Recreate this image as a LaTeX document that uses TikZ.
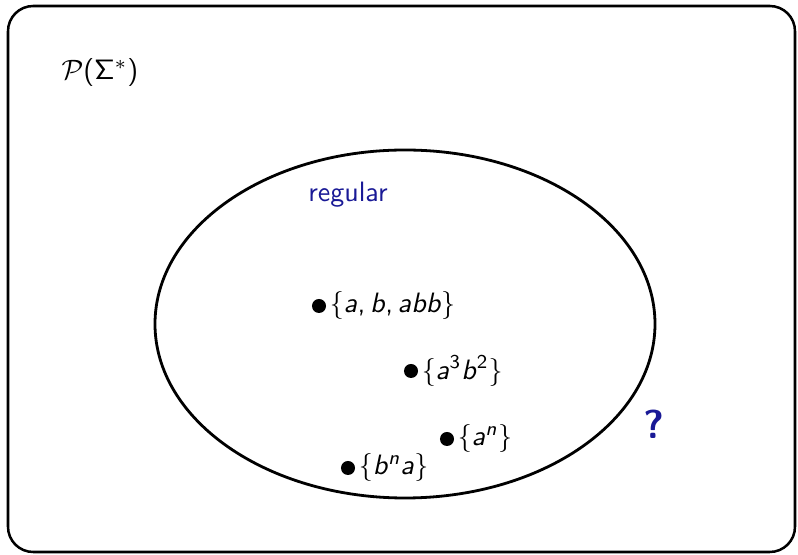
\documentclass[tikz,border=0pt]{standalone}
\usetikzlibrary{positioning}
\definecolor{structblue}{RGB}{25,25,150}
% sans serif letters in math
\DeclareSymbolFont{sfslant}{OT1}{cmss}{m}{sl}
\DeclareSymbolFont{sfup}{OT1}{cmss}{m}{n}
\DeclareMathSymbol{a}{\mathalpha}{sfslant}{`a}
\DeclareMathSymbol{b}{\mathalpha}{sfslant}{`b}
\DeclareMathSymbol{n}{\mathalpha}{sfslant}{`n}
\DeclareMathSymbol{2}{\mathalpha}{sfup}{`2}
\DeclareMathSymbol{3}{\mathalpha}{sfup}{`3}
\DeclareMathSymbol{(}{\mathopen}{sfup}{`(}
\DeclareMathSymbol{)}{\mathclose}{sfup}{`)}
\DeclareMathSymbol{,}{\mathpunct}{sfup}{`,}
\DeclareMathSymbol{\Sigma}{\mathalpha}{sfup}{6}

\begin{document}
\begin{tikzpicture}[
  x=0.357pt, y=-0.357pt,
  font=\sffamily,
  frame/.style={draw,line width=0.9pt,rounded corners=9pt},
  lang/.style={circle,fill,inner sep=0pt,minimum size=5pt,
               label={[inner sep=1pt]right:#1}},
  hint/.style={text=structblue},
]
  \useasboundingbox (0,0) rectangle (798,555);
  \draw[frame] (8,6) rectangle (795,552);
  \node (power) at (100,73) {$\mathcal{P}(\Sigma^*)$};

  % regular languages
  \draw[line width=1pt] (405,324) ellipse [x radius=250, y radius=174];
  \node[hint] (reg) at (348,195) {regular};

  \node[lang={$\{a,b,abb\}$}] (l1) at (319,306) {};
  \node[lang={$\{a^3b^2\}$}] (l2) at (411,371) {};
  \node[lang={$\{a^n\}$}] (l3) at (447,439) {};
  \node[lang={$\{b^na\}$}] (l4) at (348,468) {};

  \node[hint,font=\sffamily\Large\bfseries] (q) at (654,424) {?};
\end{tikzpicture}
\end{document}
